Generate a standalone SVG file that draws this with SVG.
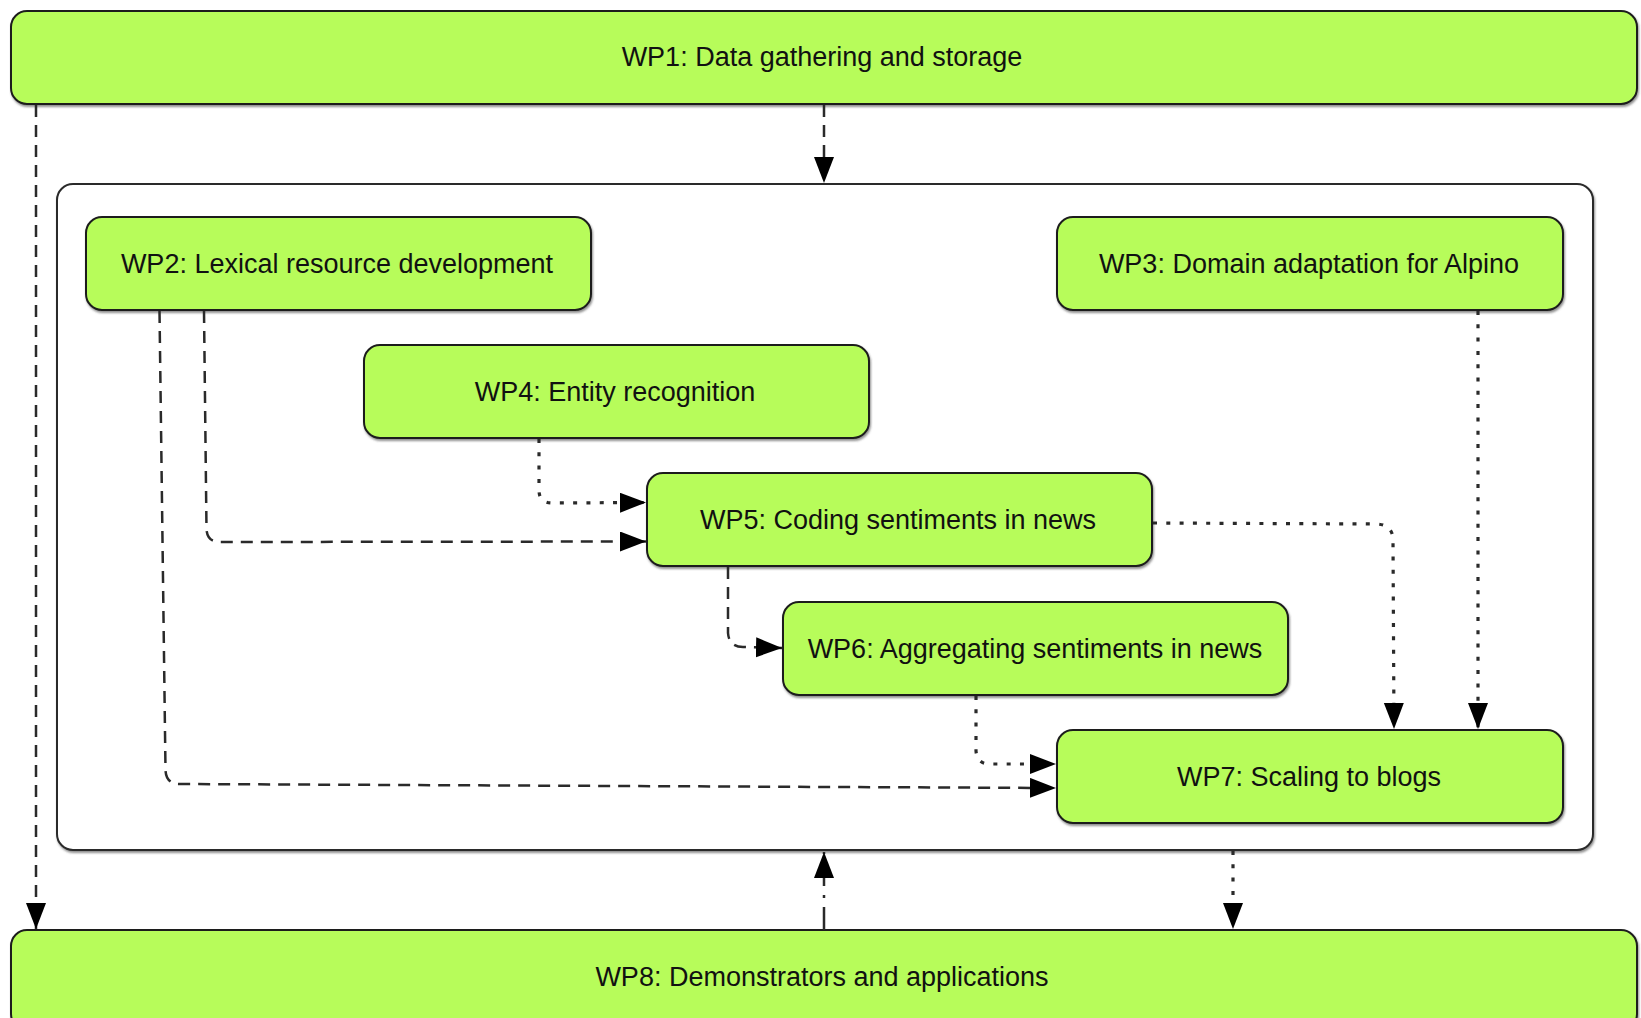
<svg xmlns="http://www.w3.org/2000/svg" width="1641" height="1018" viewBox="0 0 1641 1018">
  <style>
    .box { fill: #b7fc5a; stroke: #1e1e1e; stroke-width: 2; }
    .cont { fill: #ffffff; stroke: #2a2a2a; stroke-width: 2; }
    .lbl { font-family: "Liberation Sans", Arial, sans-serif; font-size: 27px; fill: #111; text-anchor: middle; }
    .edge { fill: none; stroke: #2a2a2a; stroke-width: 2.5; }
    .dash { stroke-dasharray: 12 8; }
    .dot { stroke-dasharray: 4 9.3; stroke-width: 3.2; stroke-linecap: butt; }
    .dashdot { stroke-dasharray: 23 9 3 9; }
  </style>
  <defs>
    <marker id="arr" markerUnits="userSpaceOnUse" markerWidth="28" markerHeight="22" refX="26" refY="10" orient="auto">
      <path d="M0,0 L26,10 L0,20 Z" fill="#000"/>
    </marker>
    <filter id="sh" x="-5%" y="-10%" width="110%" height="130%">
      <feDropShadow dx="1" dy="2" stdDeviation="1" flood-color="#444" flood-opacity="0.6"/>
    </filter>
  </defs>
  <rect width="1641" height="1018" fill="#ffffff"/>

  <g id="container">
    <rect class="cont" x="57" y="184" width="1536" height="666" rx="16" ry="16" filter="url(#sh)"/>
  </g>

  <g id="WP1">
    <rect class="box" x="11" y="11" width="1626" height="93" rx="16" ry="16" filter="url(#sh)"/>
    <text class="lbl" x="822" y="66">WP1: Data gathering and storage</text>
  </g>
  <g id="WP2">
    <rect class="box" x="86" y="217" width="505" height="93" rx="16" ry="16" filter="url(#sh)"/>
    <text class="lbl" x="337" y="273">WP2: Lexical resource development</text>
  </g>
  <g id="WP3">
    <rect class="box" x="1057" y="217" width="506" height="93" rx="16" ry="16" filter="url(#sh)"/>
    <text class="lbl" x="1309" y="273">WP3: Domain adaptation for Alpino</text>
  </g>
  <g id="WP4">
    <rect class="box" x="364" y="345" width="505" height="93" rx="16" ry="16" filter="url(#sh)"/>
    <text class="lbl" x="615" y="401">WP4: Entity recognition</text>
  </g>
  <g id="WP5">
    <rect class="box" x="647" y="473" width="505" height="93" rx="16" ry="16" filter="url(#sh)"/>
    <text class="lbl" x="898" y="529">WP5: Coding sentiments in news</text>
  </g>
  <g id="WP6">
    <rect class="box" x="783" y="602" width="505" height="93" rx="16" ry="16" filter="url(#sh)"/>
    <text class="lbl" x="1035" y="658">WP6: Aggregating sentiments in news</text>
  </g>
  <g id="WP7">
    <rect class="box" x="1057" y="730" width="506" height="93" rx="16" ry="16" filter="url(#sh)"/>
    <text class="lbl" x="1309" y="786">WP7: Scaling to blogs</text>
  </g>
  <g id="WP8">
    <rect class="box" x="11" y="930" width="1626" height="100" rx="16" ry="16" filter="url(#sh)"/>
    <text class="lbl" x="822" y="986">WP8: Demonstrators and applications</text>
  </g>

  <g id="connectors">
    <path class="edge dash" d="M824,105 L824,183" marker-end="url(#arr)"/>
    <path class="edge dash" d="M36,105 L36,929" marker-end="url(#arr)"/>
    <path class="edge dashdot" d="M824,930 L824,852" marker-end="url(#arr)"/>
    <path class="edge dot" d="M1233,851 L1233,929" marker-end="url(#arr)"/>
    <path class="edge dash" d="M204,311 L206.5,529 Q207,542 220,542 L646,541.5" marker-end="url(#arr)"/>
    <path class="edge dash" d="M159.5,311 L165.5,770 Q166,784 180,784 L1056,788" marker-end="url(#arr)"/>
    <path class="edge dot" d="M539,439 L539,490 Q539,503 552,503 L646,502.5" marker-end="url(#arr)"/>
    <path class="edge dash" d="M728,567 L728,633 Q729,647 743,647 L782,648" marker-end="url(#arr)"/>
    <path class="edge dot" d="M976,696 L976,751 Q977,764 990,764 L1056,764" marker-end="url(#arr)"/>
    <path class="edge dot" d="M1153,523 L1377,524 Q1393,525 1393,540 L1394,729" marker-end="url(#arr)"/>
    <path class="edge dot" d="M1478,311 L1478,729" marker-end="url(#arr)"/>
  </g>
</svg>
